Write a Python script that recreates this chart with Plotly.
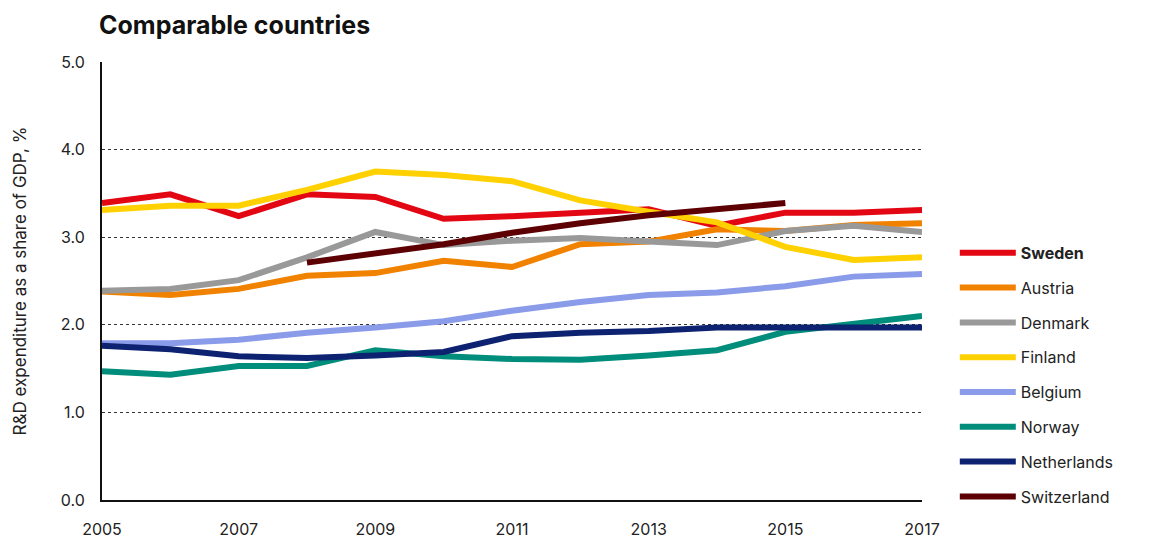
import plotly.graph_objects as go

# R&D expenditure as a share of GDP (%), 2005-2017
years = list(range(2005, 2018))

sweden = [3.39, 3.49, 3.24, 3.49, 3.46, 3.21, 3.24, 3.28, 3.32, 3.13, 3.28, 3.28, 3.31]
austria = [2.38, 2.34, 2.41, 2.56, 2.59, 2.73, 2.66, 2.92, 2.95, 3.09, 3.07, 3.14, 3.16]
denmark = [2.39, 2.41, 2.51, 2.77, 3.06, 2.91, 2.96, 2.99, 2.95, 2.91, 3.07, 3.13, 3.06]
finland = [3.31, 3.36, 3.36, 3.54, 3.75, 3.71, 3.64, 3.42, 3.29, 3.17, 2.89, 2.74, 2.77]
belgium = [1.79, 1.79, 1.83, 1.91, 1.97, 2.04, 2.16, 2.26, 2.34, 2.37, 2.44, 2.55, 2.58]
norway = [1.47, 1.43, 1.53, 1.53, 1.71, 1.64, 1.61, 1.60, 1.65, 1.71, 1.92, 2.01, 2.10]
netherlands = [1.76, 1.72, 1.64, 1.62, 1.65, 1.69, 1.87, 1.91, 1.93, 1.97, 1.97, 1.97, 1.97]
switzerland = [None, None, None, 2.71, 2.82, 2.92, 3.05, 3.16, 3.25, 3.32, 3.39, None, None]

countries = ["Sweden", "Austria", "Denmark", "Finland", "Belgium", "Norway", "Netherlands", "Switzerland"]
values = [sweden, austria, denmark, finland, belgium, norway, netherlands, switzerland]
colors = ["#e30613", "#f18200", "#999999", "#ffd100", "#8a9be9", "#008d7b", "#0d2270", "#5c0003"]

x_ticks = [2005, 2007, 2009, 2011, 2013, 2015, 2017]
y_ticks = [0, 1, 2, 3, 4, 5]

FONT = "Inter, Roboto, Arial, sans-serif"

fig = go.Figure()
for i, (name, vals, col) in enumerate(zip(countries, values, colors)):
    label = f"<b>{name}</b>" if name == "Sweden" else name
    fig.add_trace(go.Scatter(
        x=years, y=vals, name=label, mode="lines",
        line=dict(color=col, width=6),
        legendgroup=name, legendrank=i + 1,
        connectgaps=False, hoverinfo="skip",
    ))

fig.update_layout(
    width=1150, height=540,
    margin=dict(l=102, r=228, t=62, b=40, autoexpand=False),
    paper_bgcolor="white", plot_bgcolor="white",
    font=dict(family=FONT, size=16, color="#222222"),
    title=dict(
        text="<b>Comparable countries</b>",
        x=99 / 1150, xanchor="left", xref="container",
        y=1 - 25 / 540, yanchor="middle", yref="container",
        font=dict(family=FONT, size=25, color="#111111"),
    ),
    legend=dict(
        x=1.04, xanchor="left", y=0.603, yanchor="top",
        font=dict(family=FONT, size=16, color="#222222"),
        tracegroupgap=11, itemwidth=56,
        bgcolor="rgba(0,0,0,0)",
    ),
    showlegend=True,
)

fig.update_xaxes(
    range=[2005, 2017], tickvals=x_ticks, ticktext=[str(t) for t in x_ticks],
    showgrid=False, zeroline=False,
    showline=True, linecolor="#111111", linewidth=1.5,
    ticks="", ticklabelstandoff=14,
    tickfont=dict(family=FONT, size=16, color="#222222"),
)
fig.update_yaxes(
    range=[0, 5], tickvals=y_ticks, ticktext=[f"{t:.1f}" for t in y_ticks],
    showgrid=True, gridcolor="#333333", gridwidth=1, griddash="dot",
    zeroline=False,
    showline=True, linecolor="#111111", linewidth=2,
    ticks="", ticklabelstandoff=12,
    title=dict(text="R&D expenditure as a share of GDP, %", standoff=30,
               font=dict(family=FONT, size=17, color="#222222")),
    tickfont=dict(family=FONT, size=16, color="#222222"),
)

fig.write_html("out.html")
